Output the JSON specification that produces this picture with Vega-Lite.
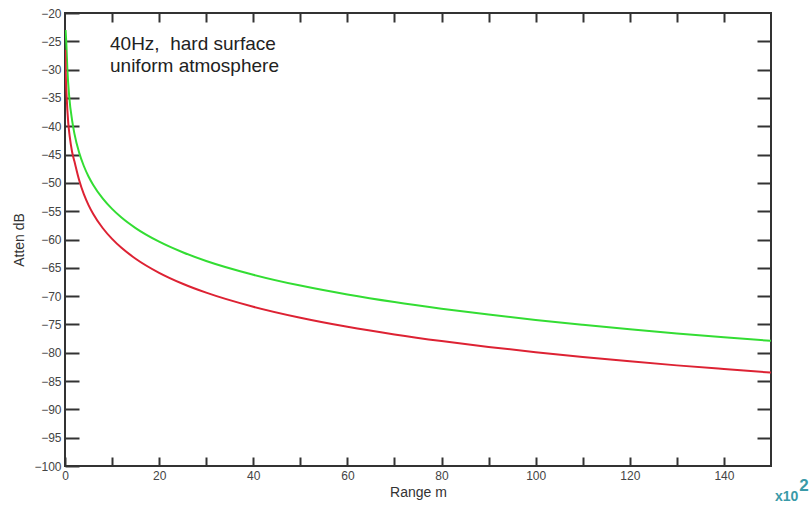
{
  "$schema": "https://vega.github.io/schema/vega-lite/v6.json",
  "width": 706,
  "height": 453,
  "autosize": {"type": "none"},
  "padding": {"left": 65, "top": 13, "right": 41, "bottom": 39},
  "background": "white",
  "config": {
    "view": {"stroke": "#333333", "strokeWidth": 2},
    "font": "Liberation Sans",
    "axis": {"labelFont": "Liberation Sans", "titleFont": "Liberation Sans", "grid": false, "domain": false, "tickColor": "#333333", "tickWidth": 2}
  },
  "datasets": {
    "curves": [
      {"range": 0.12, "atten": -23.0, "series": "green"},
      {"range": 0.3, "atten": -25.7, "series": "green"},
      {"range": 0.5, "atten": -29.9, "series": "green"},
      {"range": 0.9, "atten": -34.8, "series": "green"},
      {"range": 1.5, "atten": -38.9, "series": "green"},
      {"range": 2, "atten": -41.3, "series": "green"},
      {"range": 3, "atten": -44.65, "series": "green"},
      {"range": 4, "atten": -47.02, "series": "green"},
      {"range": 5, "atten": -48.87, "series": "green"},
      {"range": 6, "atten": -50.37, "series": "green"},
      {"range": 8, "atten": -52.75, "series": "green"},
      {"range": 10, "atten": -54.6, "series": "green"},
      {"range": 12, "atten": -56.12, "series": "green"},
      {"range": 15, "atten": -57.98, "series": "green"},
      {"range": 20, "atten": -60.38, "series": "green"},
      {"range": 25, "atten": -62.25, "series": "green"},
      {"range": 30, "atten": -63.79, "series": "green"},
      {"range": 40, "atten": -66.22, "series": "green"},
      {"range": 50, "atten": -68.14, "series": "green"},
      {"range": 60, "atten": -69.71, "series": "green"},
      {"range": 70, "atten": -71.05, "series": "green"},
      {"range": 80, "atten": -72.21, "series": "green"},
      {"range": 90, "atten": -73.26, "series": "green"},
      {"range": 100, "atten": -74.2, "series": "green"},
      {"range": 110, "atten": -75.05, "series": "green"},
      {"range": 120, "atten": -75.85, "series": "green"},
      {"range": 130, "atten": -76.58, "series": "green"},
      {"range": 140, "atten": -77.26, "series": "green"},
      {"range": 150, "atten": -77.9, "series": "green"},
      {"range": 0.05, "atten": -26.5, "series": "red"},
      {"range": 0.15, "atten": -30.5, "series": "red"},
      {"range": 0.35, "atten": -34.8, "series": "red"},
      {"range": 0.7, "atten": -39.5, "series": "red"},
      {"range": 1.0, "atten": -41.8, "series": "red"},
      {"range": 1.5, "atten": -44.5, "series": "red"},
      {"range": 2, "atten": -46.2, "series": "red"},
      {"range": 3, "atten": -49.5, "series": "red"},
      {"range": 4, "atten": -52.0, "series": "red"},
      {"range": 5, "atten": -53.92, "series": "red"},
      {"range": 6, "atten": -55.49, "series": "red"},
      {"range": 8, "atten": -57.97, "series": "red"},
      {"range": 10, "atten": -59.89, "series": "red"},
      {"range": 12, "atten": -61.47, "series": "red"},
      {"range": 15, "atten": -63.39, "series": "red"},
      {"range": 20, "atten": -65.88, "series": "red"},
      {"range": 25, "atten": -67.81, "series": "red"},
      {"range": 30, "atten": -69.39, "series": "red"},
      {"range": 40, "atten": -71.88, "series": "red"},
      {"range": 50, "atten": -73.82, "series": "red"},
      {"range": 60, "atten": -75.42, "series": "red"},
      {"range": 70, "atten": -76.76, "series": "red"},
      {"range": 80, "atten": -77.93, "series": "red"},
      {"range": 90, "atten": -78.97, "series": "red"},
      {"range": 100, "atten": -79.9, "series": "red"},
      {"range": 110, "atten": -80.74, "series": "red"},
      {"range": 120, "atten": -81.52, "series": "red"},
      {"range": 130, "atten": -82.23, "series": "red"},
      {"range": 140, "atten": -82.88, "series": "red"},
      {"range": 150, "atten": -83.5, "series": "red"}
    ],
    "notes": [
      {"range": 9.56, "atten": -26.6, "label": "40Hz,\u00a0 hard surface"},
      {"range": 9.56, "atten": -30.5, "label": "uniform atmosphere"}
    ],
    "mult": [
      {"range": 150.85, "atten": -106.18, "label": "x10", "size": 14},
      {"range": 156.0, "atten": -104.4, "label": "2", "size": 17}
    ]
  },
  "layer": [
    {
      "data": {"name": "curves"},
      "mark": {"type": "line", "strokeWidth": 2, "interpolate": "monotone", "clip": true},
      "encoding": {
        "x": {
          "field": "range", "type": "quantitative",
          "scale": {"domain": [0, 150], "nice": false, "zero": false},
          "axis": {
            "orient": "bottom", "title": "Range m",
            "values": [0, 10, 20, 30, 40, 50, 60, 70, 80, 90, 100, 110, 120, 130, 140],
            "labelExpr": "datum.value % 20 == 0 ? datum.label : ''",
            "tickSize": -9, "labelPadding": 13, "labelFontSize": 12, "labelColor": "#444444",
            "labelFlush": false, "labelOverlap": false,
            "titleFontSize": 14, "titleColor": "#333333", "titleFontWeight": "normal", "titlePadding": 4
          }
        },
        "y": {
          "field": "atten", "type": "quantitative",
          "scale": {"domain": [-100, -20], "nice": false, "zero": false},
          "axis": {
            "orient": "left", "title": "Atten dB",
            "values": [-100, -95, -90, -85, -80, -75, -70, -65, -60, -55, -50, -45, -40, -35, -30, -25, -20],
            "tickSize": -14, "labelPadding": 18, "labelFontSize": 12, "labelColor": "#444444",
            "labelFlush": false, "labelOverlap": false,
            "titleFontSize": 14, "titleColor": "#333333", "titleFontWeight": "normal", "titlePadding": 7
          }
        },
        "color": {
          "field": "series", "type": "nominal",
          "scale": {"domain": ["green", "red"], "range": ["#33dd33", "#dd2233"]},
          "legend": null
        }
      }
    },
    {
      "data": {"name": "notes"},
      "mark": {"type": "text", "align": "left", "baseline": "alphabetic", "fontSize": 19, "color": "#222222", "font": "Liberation Sans"},
      "encoding": {
        "x": {
          "field": "range", "type": "quantitative",
          "scale": {"domain": [0, 150], "nice": false, "zero": false},
          "axis": {
            "orient": "top", "title": null, "labels": false,
            "values": [10, 20, 30, 40, 50, 60, 70, 80, 90, 100, 110, 120, 130, 140],
            "tickSize": -9
          }
        },
        "y": {
          "field": "atten", "type": "quantitative",
          "scale": {"domain": [-100, -20], "nice": false, "zero": false},
          "axis": {
            "orient": "right", "title": null, "labels": false,
            "values": [-95, -90, -85, -80, -75, -70, -65, -60, -55, -50, -45, -40, -35, -30, -25],
            "tickSize": -14
          }
        },
        "text": {"field": "label"}
      }
    },
    {
      "data": {"name": "mult"},
      "mark": {"type": "text", "align": "left", "baseline": "alphabetic", "color": "#3a9aa8", "font": "Liberation Sans", "fontWeight": "bold", "clip": false},
      "encoding": {
        "x": {"field": "range", "type": "quantitative", "scale": {"domain": [0, 150], "nice": false, "zero": false}, "axis": null},
        "y": {"field": "atten", "type": "quantitative", "scale": {"domain": [-100, -20], "nice": false, "zero": false}, "axis": null},
        "text": {"field": "label"},
        "size": {"field": "size", "type": "quantitative", "scale": null, "legend": null}
      }
    }
  ]
}
